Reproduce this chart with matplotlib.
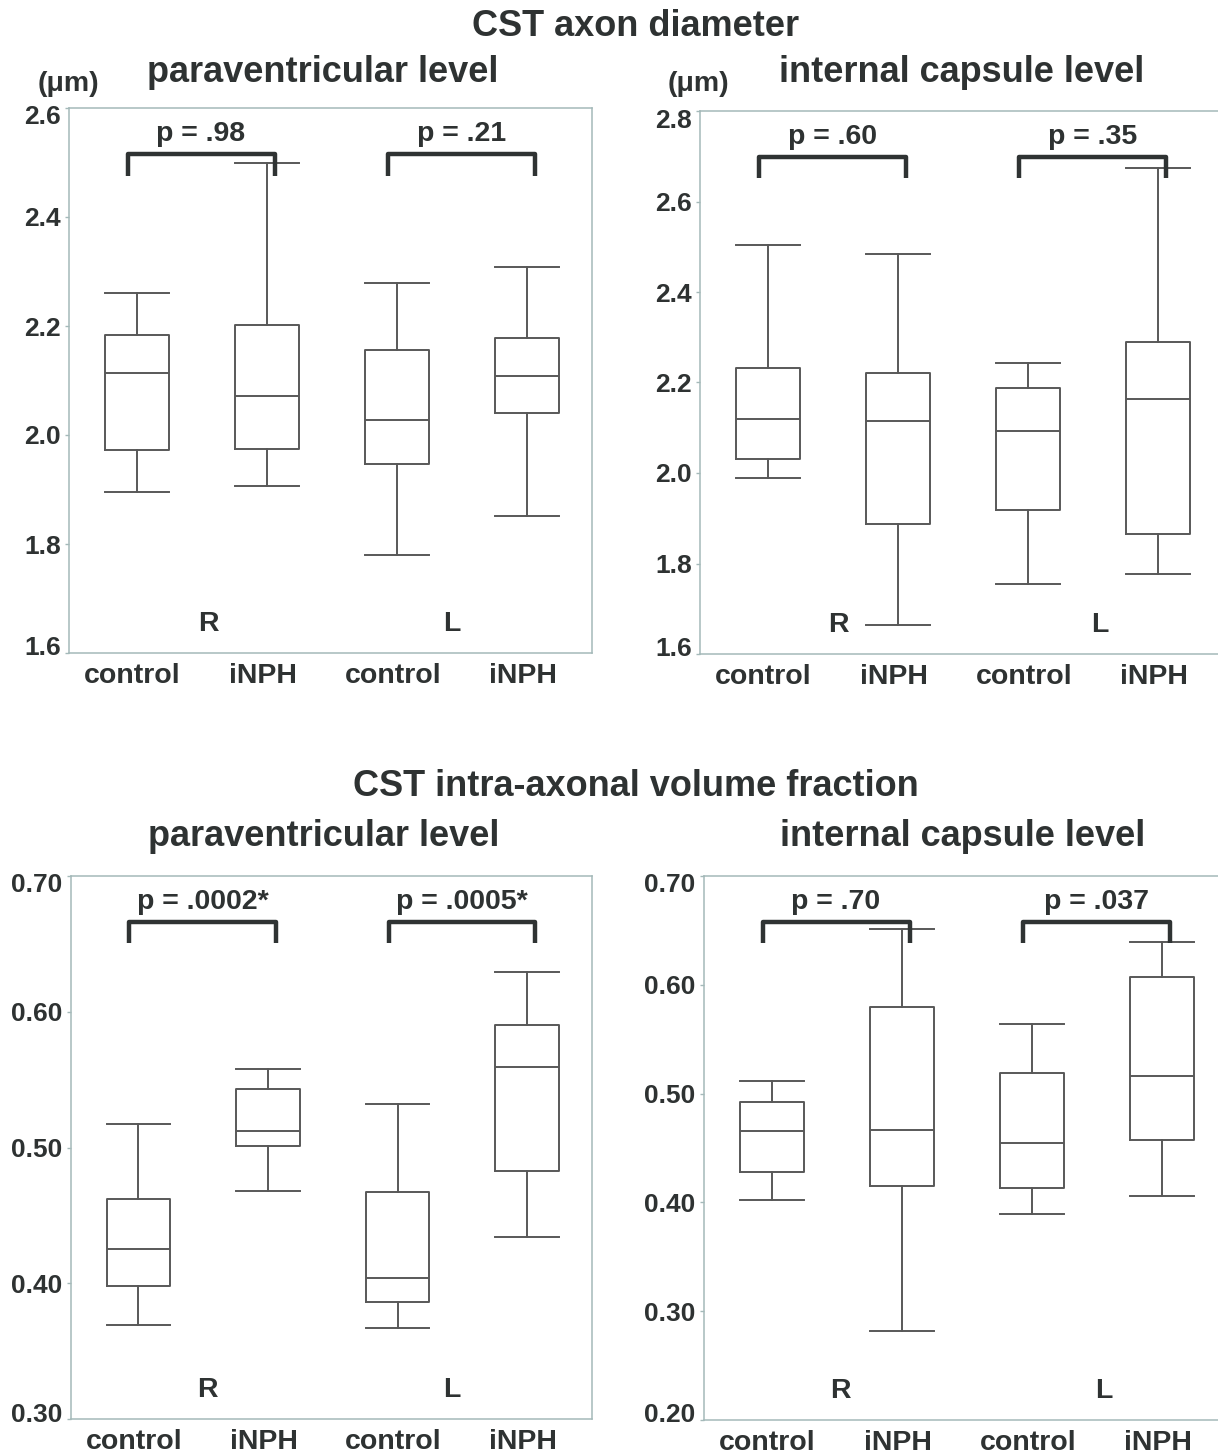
import matplotlib
matplotlib.use("Agg")
import matplotlib.pyplot as plt
from matplotlib.transforms import blended_transform_factory, ScaledTranslation

plt.rcParams['font.family'] = ['Liberation Sans', 'DejaVu Sans']
plt.rcParams['font.weight'] = 'bold'

TXT = '#2e3232'
BOXC = '#585858'
SPINE = '#a4b9b9'

groups = ['control', 'iNPH', 'control', 'iNPH']
sides = ['R', 'L']

# ---- data: box statistics (whislo, q1, median, q3, whishi) per group ----
# CST axon diameter, paraventricular level
ad_pv_whislo = [1.895, 1.906, 1.780, 1.851]
ad_pv_q1     = [1.972, 1.975, 1.946, 2.040]
ad_pv_med    = [2.113, 2.072, 2.027, 2.109]
ad_pv_q3     = [2.183, 2.202, 2.156, 2.178]
ad_pv_whishi = [2.261, 2.499, 2.279, 2.308]
ad_pv_p = ['p = .98', 'p = .21']

# CST axon diameter, internal capsule level
ad_ic_whislo = [1.988, 1.663, 1.754, 1.776]
ad_ic_q1     = [2.031, 1.887, 1.919, 1.866]
ad_ic_med    = [2.120, 2.116, 2.093, 2.164]
ad_ic_q3     = [2.232, 2.222, 2.188, 2.289]
ad_ic_whishi = [2.503, 2.485, 2.242, 2.675]
ad_ic_p = ['p = .60', 'p = .35']

# CST intra-axonal volume fraction, paraventricular level
vf_pv_whislo = [0.369, 0.468, 0.367, 0.434]
vf_pv_q1     = [0.398, 0.501, 0.386, 0.483]
vf_pv_med    = [0.425, 0.512, 0.404, 0.559]
vf_pv_q3     = [0.462, 0.543, 0.467, 0.590]
vf_pv_whishi = [0.517, 0.558, 0.532, 0.629]
vf_pv_p = ['p = .0002*', 'p = .0005*']

# CST intra-axonal volume fraction, internal capsule level
vf_ic_whislo = [0.402, 0.282, 0.389, 0.406]
vf_ic_q1     = [0.428, 0.415, 0.413, 0.457]
vf_ic_med    = [0.466, 0.467, 0.455, 0.516]
vf_ic_q3     = [0.492, 0.580, 0.519, 0.607]
vf_ic_whishi = [0.512, 0.651, 0.564, 0.639]
vf_ic_p = ['p = .70', 'p = .037']

ad_pv_ticks = [1.6, 1.8, 2.0, 2.2, 2.4, 2.6]
ad_ic_ticks = [1.6, 1.8, 2.0, 2.2, 2.4, 2.6, 2.8]
vf_pv_ticks = [0.30, 0.40, 0.50, 0.60, 0.70]
vf_ic_ticks = [0.20, 0.30, 0.40, 0.50, 0.60, 0.70]

W, H = 1218, 1455
fig = plt.figure(figsize=(W / 100, H / 100), dpi=100)
fig.patch.set_facecolor('white')


def make_ax(left, top, bottom, width):
    return fig.add_axes([left / W, 1 - bottom / H, width / W, (bottom - top) / H])


def shift(artist, dx_px, dy_px):
    artist.set_transform(artist.get_transform() +
                         ScaledTranslation(dx_px / 100, dy_px / 100, fig.dpi_scale_trans))


def panel(ax, lo, q1, med, q3, hi, ticks, fmt, ptexts, rl_x):
    pos = [1, 2, 3, 4]
    stats = []
    for i in range(4):
        stats.append(dict(whislo=lo[i], q1=q1[i], med=med[i], q3=q3[i],
                          whishi=hi[i], fliers=[]))
    lw = 1.4
    ax.bxp(stats, positions=pos, widths=0.49, capwidths=0.49, showfliers=False,
           boxprops=dict(color=BOXC, linewidth=lw),
           whiskerprops=dict(color=BOXC, linewidth=lw),
           capprops=dict(color=BOXC, linewidth=lw),
           medianprops=dict(color=BOXC, linewidth=lw))
    ax.set_xlim(0.48, 4.5)
    ax.set_ylim(ticks[0], ticks[-1])
    ax.set_yticks(ticks)
    ax.set_yticklabels([fmt.format(t) for t in ticks], fontsize=19, color=TXT,
                       fontweight='bold')
    ax.set_xticks(pos)
    ax.set_xticklabels(groups, fontsize=20.5, color=TXT, fontweight='bold')
    ax.tick_params(axis='x', length=0, pad=7)
    ax.tick_params(axis='y', length=3, width=1, color=SPINE, pad=3)
    ylabels = ax.get_yticklabels()
    shift(ylabels[0], 0, 7)
    shift(ylabels[-1], 0, -7)
    for lab in ax.get_xticklabels():
        shift(lab, -4, 0)
    for s in ax.spines.values():
        s.set_color(SPINE)
        s.set_linewidth(1.1)
    tr = blended_transform_factory(ax.transData, ax.transAxes)
    for k, (a, b) in enumerate([(1, 2), (3, 4)]):
        xl, xr = a - 0.07, b + 0.06
        ax.plot([xl, xl, xr, xr], [0.876, 0.916, 0.916, 0.876], transform=tr,
                color='#2f3333', linewidth=3.2, solid_joinstyle='round',
                solid_capstyle='butt', clip_on=False)
        ax.text((xl + xr) / 2, 0.953, ptexts[k], transform=tr, ha='center',
                va='center', fontsize=20.5, color=TXT, fontweight='bold')
        ax.text(rl_x[k], 0.053, sides[k], transform=tr, ha='center', va='center',
                fontsize=20.5, color=TXT, fontweight='bold')


ax1 = make_ax(69, 108, 653, 523)
panel(ax1, ad_pv_whislo, ad_pv_q1, ad_pv_med, ad_pv_q3, ad_pv_whishi,
      ad_pv_ticks, '{:.1f}', ad_pv_p, [1.55, 3.42])
ax2 = make_ax(700, 111, 654, 523)
panel(ax2, ad_ic_whislo, ad_ic_q1, ad_ic_med, ad_ic_q3, ad_ic_whishi,
      ad_ic_ticks, '{:.1f}', ad_ic_p, [1.54, 3.55])
ax3 = make_ax(71, 876, 1419, 521)
panel(ax3, vf_pv_whislo, vf_pv_q1, vf_pv_med, vf_pv_q3, vf_pv_whishi,
      vf_pv_ticks, '{:.2f}', vf_pv_p, [1.53, 3.42])
ax4 = make_ax(704, 876, 1420, 523)
panel(ax4, vf_ic_whislo, vf_ic_q1, vf_ic_med, vf_ic_q3, vf_ic_whishi,
      vf_ic_ticks, '{:.2f}', vf_ic_p, [1.53, 3.55])


def ftext(x, y, s, size):
    fig.text(x / W, 1 - y / H, s, ha='center', va='center', fontsize=size,
             color=TXT, fontweight='bold')


ftext(636, 27, 'CST axon diameter', 26)
ftext(323, 72, 'paraventricular level', 26)
ftext(962, 72, 'internal capsule level', 26)
ftext(68, 84, '(μm)', 20.5)
ftext(698, 84, '(μm)', 20.5)
ftext(636, 787, 'CST intra-axonal volume fraction', 26)
ftext(324, 837, 'paraventricular level', 26)
ftext(963, 837, 'internal capsule level', 26)

fig.savefig('out.png', dpi=100, facecolor='white')
